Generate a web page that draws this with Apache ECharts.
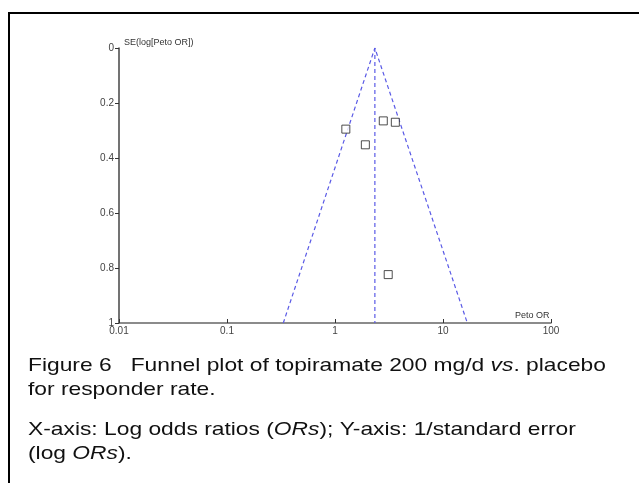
<!DOCTYPE html>
<html><head><meta charset="utf-8">
<script src="https://cdn.jsdelivr.net/npm/echarts@6/dist/echarts.min.js"></script>
<style>html,body{margin:0;padding:0;background:#fff}#c{width:639px;height:483px}</style>
</head><body><div id="c"></div>
<script>
// Study estimates (Peto OR and SE of log Peto OR)
const studyOR = [1.26, 1.91, 2.80, 3.62, 3.11];
const studySE = [0.295, 0.352, 0.265, 0.270, 0.824];
// Pooled estimate and funnel limits at SE = 1
const pooledOR = 2.34;
const funnelLowerOR = 0.332;
const funnelUpperOR = 16.8;
const seTop = 0, seBottom = 1;
const xTicks = ['0.01', '0.1', '1', '10', '100'];
const yTicks = ['0', '0.2', '0.4', '0.6', '0.8', '1'];

const chart = echarts.init(document.getElementById('c'), null, {renderer: 'canvas'});
const blue = '#5a5ae6';
const font = 'Liberation Sans, Arial, sans-serif';
const capRich = {
  n: {fontSize: 19, fontFamily: font, fill: '#111'},
  i: {fontSize: 19, fontFamily: font, fontStyle: 'italic', fill: '#111'}
};
const sx = 1.2;
chart.setOption({
  animation: false,
  grid: {left: 119, right: 88, top: 48, bottom: 160},
  xAxis: {
    type: 'log', logBase: 10, min: 0.01, max: 100, position: 'bottom',
    axisLine: {onZero: false, lineStyle: {color: '#666', width: 1.5}},
    axisTick: {inside: true, length: 4, lineStyle: {color: '#333'}},
    minorTick: {show: false},
    splitLine: {show: false},
    axisLabel: {color: '#444', fontSize: 10, fontFamily: font, margin: 3,
      formatter: v => { const s = xTicks.find(t => Math.abs(parseFloat(t) - v) / v < 1e-6); return s || ''; }}
  },
  yAxis: {
    type: 'value', inverse: true, min: 0, max: 1, interval: 0.2,
    axisLine: {show: true, onZero: false, lineStyle: {color: '#444', width: 1.5}},
    axisTick: {show: true, length: 4, lineStyle: {color: '#333'}},
    splitLine: {show: false},
    axisLabel: {color: '#444', fontSize: 10, fontFamily: font, margin: 5,
      formatter: v => yTicks[Math.round(v / 0.2)]}
  },
  series: [
    {type: 'line', data: [[funnelLowerOR, seBottom], [pooledOR, seTop], [funnelUpperOR, seBottom]],
     symbol: 'none', lineStyle: {color: blue, width: 1.2, type: [4, 3]}, z: 2},
    {type: 'line', data: [[pooledOR, seTop], [pooledOR, seBottom]],
     symbol: 'none', lineStyle: {color: blue, width: 1.2, type: [4, 3]}, z: 2},
    {type: 'scatter', data: studyOR.map((v, i) => [v, studySE[i]]),
     symbol: 'rect', symbolSize: 8,
     itemStyle: {color: '#fff', borderColor: '#222', borderWidth: 1}, z: 3}
  ],
  graphic: [
    {type: 'line', shape: {x1: 8, y1: 13, x2: 639, y2: 13}, style: {stroke: '#000', lineWidth: 2}},
    {type: 'line', shape: {x1: 9, y1: 12, x2: 9, y2: 483}, style: {stroke: '#000', lineWidth: 2}},
    {type: 'text', x: 124, y: 38, style: {text: 'SE(log[Peto OR])', fill: '#333', font: '9px ' + font}},
    {type: 'text', x: 515, y: 311, style: {text: 'Peto OR', fill: '#333', font: '9px ' + font}},
    {type: 'text', x: 28, y: 356, scaleX: sx, style: {rich: capRich,
      text: '{n|Figure 6   Funnel plot of topiramate 200 mg/d }{i|vs}{n|. placebo}'}},
    {type: 'text', x: 28, y: 380, scaleX: sx, style: {rich: capRich, text: '{n|for responder rate.}'}},
    {type: 'text', x: 28, y: 420, scaleX: sx, style: {rich: capRich,
      text: '{n|X-axis: Log odds ratios (}{i|ORs}{n|); Y-axis: 1/standard error}'}},
    {type: 'text', x: 28, y: 444, scaleX: sx, style: {rich: capRich,
      text: '{n|(log }{i|ORs}{n|).}'}}
  ]
});
</script></body></html>
